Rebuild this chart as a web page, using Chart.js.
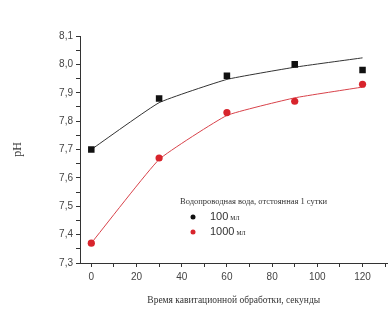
<!DOCTYPE html>
<html>
<head>
<meta charset="utf-8">
<script src="https://cdn.jsdelivr.net/npm/chart.js@4/dist/chart.umd.min.js"></script>
<style>
  body { margin: 0; background: #fff; }
</style>
</head>
<body>
<canvas id="ph" width="392" height="316"></canvas>
<script>
"use strict";

// Data
const seconds = [0, 30, 60, 90, 120];
const ph100 = [7.70, 7.88, 7.96, 8.00, 7.98];
const ph1000 = [7.37, 7.67, 7.83, 7.87, 7.93];
const fit100 = [7.70, 7.865, 7.947, 7.99, 8.023];
const fit1000 = [7.37, 7.665, 7.82, 7.882, 7.92];

const xTicks = [0, 10, 20, 30, 40, 50, 60, 70, 80, 90, 100, 110, 120, 130];
const yTicks = [7.3, 7.35, 7.4, 7.45, 7.5, 7.55, 7.6, 7.65, 7.7, 7.75, 7.8, 7.85, 7.9, 7.95, 8.0, 8.05, 8.1];

const legendTitle = "Водопроводная вода, отстоянная 1 сутки";
const seriesNames = [["100", " мл"], ["1000", " мл"]];
const seriesColors = ["#111111", "#d8242c"];

const toPoints = (xs, ys) => xs.map((x, i) => ({ x: x, y: ys[i] }));

// legend drawn inside the plot
const legendPlugin = {
  id: "insideLegend",
  afterDraw(chart) {
    const ctx = chart.ctx;
    ctx.save();
    ctx.fillStyle = "#333";
    ctx.textBaseline = "middle";
    ctx.font = "8.5px 'Liberation Serif'";
    ctx.fillText(legendTitle, 180, 202);
    seriesNames.forEach((name, i) => {
      const y = 217 + i * 15;
      ctx.fillStyle = seriesColors[i];
      ctx.beginPath();
      ctx.arc(193, y, 2.5, 0, Math.PI * 2);
      ctx.fill();
      ctx.fillStyle = "#333";
      ctx.font = "11px 'Liberation Sans'";
      ctx.fillText(name[0], 210, y);
      const w = ctx.measureText(name[0]).width;
      ctx.font = "8px 'Liberation Serif'";
      ctx.fillText(name[1], 210 + w, y + 1);
    });
    ctx.restore();
  }
};

const chart = new Chart(document.getElementById("ph"), {
  type: "line",
  data: {
    datasets: [
      {
        data: toPoints(seconds, fit100),
        borderColor: "#333",
        borderWidth: 1,
        pointRadius: 0,
        tension: 0.12,
        order: 2
      },
      {
        data: toPoints(seconds, fit1000),
        borderColor: "#d8424a",
        borderWidth: 1,
        pointRadius: 0,
        tension: 0.12,
        order: 2
      },
      {
        data: toPoints(seconds, ph100),
        showLine: false,
        pointStyle: "rect",
        pointRadius: 4.6,
        backgroundColor: seriesColors[0],
        borderWidth: 0,
        order: 1
      },
      {
        data: toPoints(seconds, ph1000),
        showLine: false,
        pointStyle: "circle",
        pointRadius: 3.6,
        backgroundColor: seriesColors[1],
        borderWidth: 0,
        order: 1
      }
    ]
  },
  options: {
    responsive: false,
    animation: false,
    layout: { padding: { top: 36, right: 4, left: 0, bottom: 0 } },
    plugins: {
      legend: { display: false },
      tooltip: { enabled: false }
    },
    scales: {
      x: {
        type: "linear",
        min: -5,
        max: 131,
        afterBuildTicks: (s) => { s.ticks = xTicks.map(v => ({ value: v })); },
        afterFit: (s) => { s.height = 53; },
        border: { color: "#333", width: 1 },
        grid: { drawOnChartArea: false, tickLength: 4, tickColor: "#333" },
        ticks: {
          color: "#444",
          font: { family: "'Liberation Sans'", size: 10 },
          padding: 4,
          maxRotation: 0,
          autoSkip: false,
          callback: (v) => (v % 20 === 0 ? String(v) : "")
        },
        title: {
          display: true,
          text: "Время кавитационной обработки, секунды",
          color: "#333",
          font: { family: "'Liberation Serif'", size: 9.5 },
          padding: { top: 8, bottom: 10 }
        }
      },
      y: {
        min: 7.3,
        max: 8.1,
        afterBuildTicks: (s) => { s.ticks = yTicks.map(v => ({ value: v })); },
        afterFit: (s) => { s.width = 80; },
        border: { color: "#333", width: 1 },
        grid: { drawOnChartArea: false, tickLength: 4, tickColor: "#333" },
        ticks: {
          color: "#444",
          font: { family: "'Liberation Sans'", size: 10 },
          padding: 3,
          autoSkip: false,
          callback: (v) => {
            const k = Math.round(v * 100);
            return k % 10 === 0 ? (k / 100).toFixed(1).replace(".", ",") : "";
          }
        },
        title: {
          display: true,
          text: "pH",
          color: "#333",
          font: { family: "'Liberation Serif'", size: 12 },
          padding: { top: 11, bottom: 0 }
        }
      }
    }
  },
  plugins: [legendPlugin]
});
</script>
</body>
</html>
